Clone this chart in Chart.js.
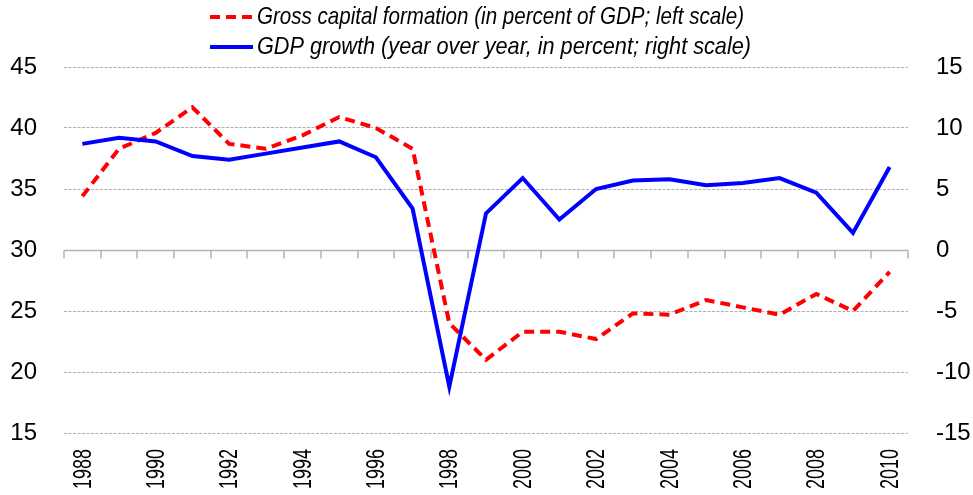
<!DOCTYPE html>
<html>
<head>
<meta charset="utf-8">
<script src="https://cdn.jsdelivr.net/npm/chart.js@4.4.1/dist/chart.umd.min.js"></script>
<style>
html,body{margin:0;padding:0;background:#fff;}
canvas{display:block;}
</style>
</head>
<body>
<canvas id="c" width="973" height="495"></canvas>
<script>
const years = ['1988','1989','1990','1991','1992','1993','1994','1995','1996','1997','1998','1999','2000','2001','2002','2003','2004','2005','2006','2007','2008','2009','2010'];
const grossCapitalFormation = [34.4,38.3,39.6,41.7,38.7,38.3,39.4,40.9,40.0,38.3,24.0,21.0,23.3,23.3,22.7,24.8,24.7,25.9,25.3,24.7,26.4,25.0,28.2];
const gdpGrowth = [8.7,9.2,8.9,7.7,7.4,7.9,8.4,8.9,7.6,3.4,-11.2,3.0,5.9,2.5,5.0,5.7,5.8,5.3,5.5,5.9,4.7,1.4,6.8];
const leftTicks = {min:15, max:45, step:5};
const rightTicks = {min:-15, max:15, step:5};
const legendLabels = ['Gross capital formation (in percent of GDP; left scale)','GDP growth (year over year, in percent; right scale)'];

const FONT = "'Liberation Sans', Arial, sans-serif";

// legend drawn as condensed italic text
const customLegend = {
  id:'customLegend',
  afterDraw(chart){
    const ctx = chart.ctx;
    const rows = [17, 47];
    const widths = [487, 494];
    chart.data.datasets.forEach((ds,i)=>{
      const y = rows[i];
      ctx.save();
      ctx.strokeStyle = ds.borderColor;
      ctx.lineWidth = 4;
      ctx.setLineDash(ds.borderDash || []);
      ctx.beginPath();
      ctx.moveTo(210,y);
      ctx.lineTo(253,y);
      ctx.stroke();
      ctx.setLineDash([]);
      ctx.fillStyle = '#000';
      ctx.font = "italic 24px " + FONT;
      ctx.textBaseline = 'middle';
      ctx.textAlign = 'left';
      const w = ctx.measureText(ds.label).width;
      ctx.translate(257, y);
      ctx.scale(widths[i]/w, 1);
      ctx.fillText(ds.label, 0, 0);
      ctx.restore();
    });
  }
};

// condensed, rotated category labels placed by the x scale
const xLabels = {
  id:'xLabels',
  afterDraw(chart){
    const ctx = chart.ctx;
    const x = chart.scales.x;
    const top = chart.chartArea.bottom + 16;
    ctx.save();
    ctx.fillStyle = '#000';
    ctx.font = "26px " + FONT;
    ctx.textAlign = 'right';
    ctx.textBaseline = 'middle';
    years.forEach((lab,i)=>{
      if(i%2!==0) return;
      const xp = x.getPixelForValue(i);
      const w = ctx.measureText(lab).width;
      ctx.save();
      ctx.translate(xp+1, top);
      ctx.rotate(-Math.PI/2);
      ctx.scale(40/w, 1);
      ctx.fillText(lab, 0, 0);
      ctx.restore();
    });
    ctx.restore();
  }
};

const axisAt30 = {
  id:'axisAt30',
  beforeDatasetsDraw(chart){
    const ctx = chart.ctx;
    const x = chart.scales.x;
    const yl = chart.scales.yL;
    const ca = chart.chartArea;
    const yp = Math.round(yl.getPixelForValue(30)) + 0.5;
    ctx.save();
    ctx.fillStyle='#fff';
    ctx.fillRect(ca.left, yp-1.5, ca.right-ca.left, 3);
    ctx.strokeStyle = '#b4b4b4';
    ctx.lineWidth = 1.5;
    ctx.beginPath();
    ctx.moveTo(ca.left, yp);
    ctx.lineTo(ca.right, yp);
    for(let i=0;i<=years.length;i++){
      const xp = Math.round(x.getPixelForValue(i-0.5));
      ctx.moveTo(xp, yp);
      ctx.lineTo(xp, yp+8);
    }
    ctx.stroke();
    ctx.restore();
  }
};

new Chart(document.getElementById('c'), {
  type:'line',
  data:{
    labels: years,
    datasets:[
      {label: legendLabels[0], data: grossCapitalFormation, yAxisID:'yL', borderColor:'#ff0000', borderWidth:4, borderDash:[10,6], pointRadius:0, tension:0, fill:false, order:2},
      {label: legendLabels[1], data: gdpGrowth, yAxisID:'yR', borderColor:'#0000ff', borderWidth:4, pointRadius:0, tension:0, fill:false, order:1}
    ]
  },
  options:{
    responsive:false,
    animation:false,
    devicePixelRatio:1,
    layout:{padding:{top:67,bottom:0,left:0,right:0}},
    plugins:{legend:{display:false}, tooltip:{enabled:false}},
    scales:{
      x:{
        type:'category',
        offset:true,
        grid:{display:false, drawTicks:false},
        border:{display:false},
        afterFit(s){ s.height = 62; },
        ticks:{display:false}
      },
      yL:{
        position:'left',
        min:leftTicks.min, max:leftTicks.max,
        afterFit(s){ s.width = 64; },
        grid:{color:'#b0b0b0', lineWidth:1, drawTicks:false},
        border:{display:false, dash:[3,1.5]},
        ticks:{stepSize:leftTicks.step, padding:27, color:'#000', font:{family:FONT, size:24}}
      },
      yR:{
        position:'right',
        min:rightTicks.min, max:rightTicks.max,
        afterFit(s){ s.width = 65; },
        grid:{display:false, drawTicks:false},
        border:{display:false},
        ticks:{stepSize:rightTicks.step, padding:28, color:'#000', font:{family:FONT, size:24}}
      }
    }
  },
  plugins:[axisAt30, xLabels, customLegend]
});
</script>
</body>
</html>
